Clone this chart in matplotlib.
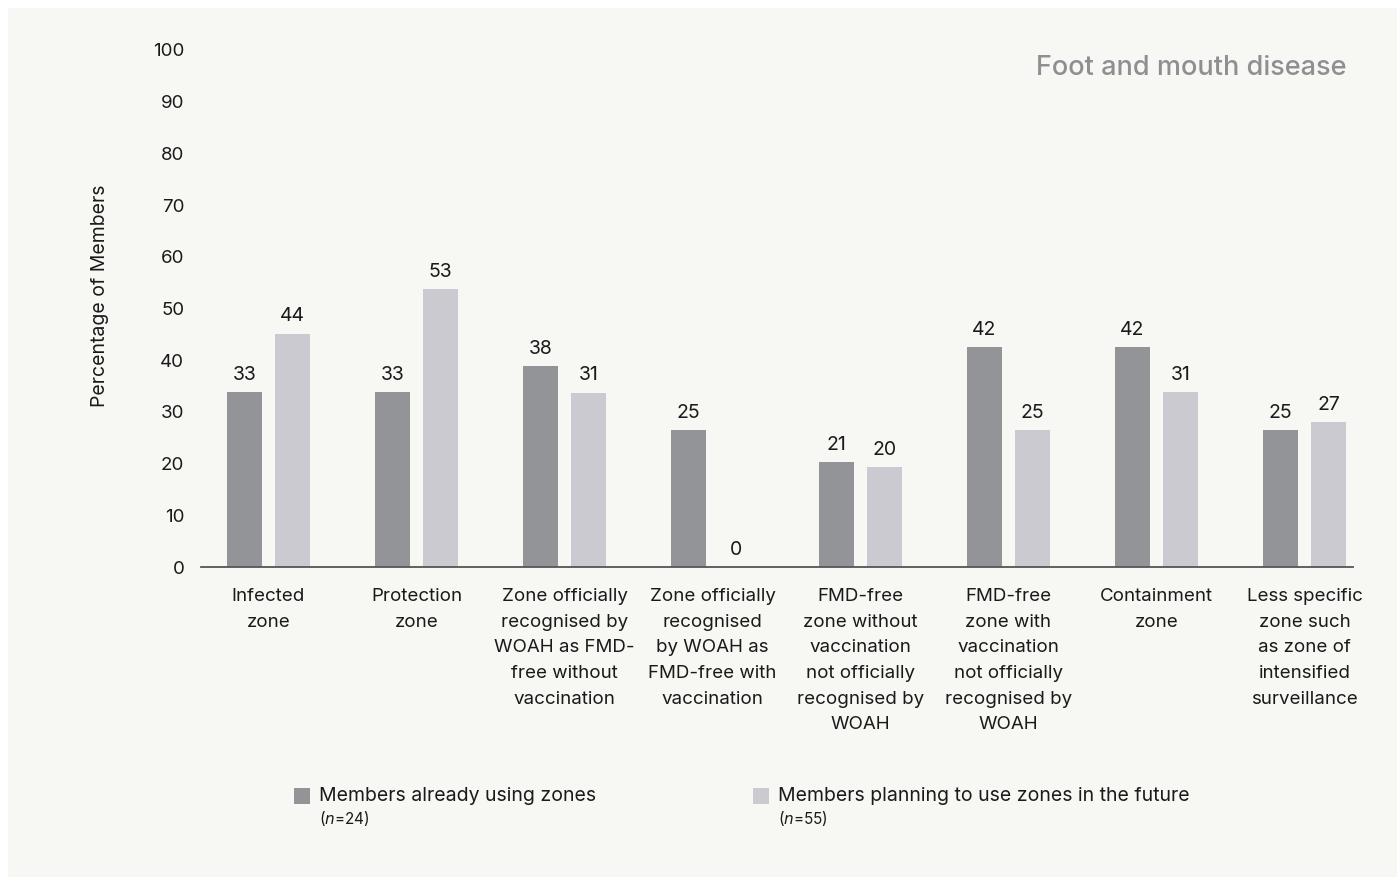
import numpy as np
import matplotlib
matplotlib.use("Agg")
import matplotlib.pyplot as plt
from matplotlib.patches import Rectangle

plt.rcParams['font.family'] = ['Inter', 'DejaVu Sans']

categories = [
    "Infected\nzone",
    "Protection\nzone",
    "Zone officially\nrecognised by\nWOAH as FMD-\nfree without\nvaccination",
    "Zone officially\nrecognised\nby WOAH as\nFMD-free with\nvaccination",
    "FMD-free\nzone without\nvaccination\nnot officially\nrecognised by\nWOAH",
    "FMD-free\nzone with\nvaccination\nnot officially\nrecognised by\nWOAH",
    "Containment\nzone",
    "Less specific\nzone such\nas zone of\nintensified\nsurveillance",
]
# bar heights as drawn in the picture, and the printed labels
already_height = [33.8, 33.8, 38.8, 26.5, 20.3, 42.5, 42.5, 26.5]
already_label = ["33", "33", "38", "25", "21", "42", "42", "25"]
planning_height = [45.1, 53.8, 33.7, 0, 19.3, 26.5, 33.8, 28.0]
planning_label = ["44", "53", "31", "0", "20", "25", "31", "27"]
yticks = list(range(0, 101, 10))

dark = "#939497"
light = "#cacad0"
bg = "#f7f7f3"
txt = "#1a1a1a"

W, H = 1397, 877
fig = plt.figure(figsize=(W / 100, H / 100), dpi=100, facecolor="white")
fig.add_artist(Rectangle((8 / W, 0), 1, 1 - 8 / H, transform=fig.transFigure,
                         facecolor=bg, edgecolor="none", zorder=-10))

ax = fig.add_axes([201 / W, 1 - 567 / H, (1353 - 201) / W, (567 - 50) / H])
ax.set_facecolor("none")

x = np.arange(len(categories))
bw = 0.236
off = 0.162
ax.bar(x - off, already_height, bw, color=dark, zorder=2)
ax.bar(x + off, planning_height, bw, color=light, zorder=2)

for xi, h, lab in zip(x - off, already_height, already_label):
    ax.annotate(lab, (xi, h), xytext=(0, 6), textcoords="offset points",
                ha="center", va="bottom", fontsize=14, color=txt)
for xi, h, lab in zip(x + off, planning_height, planning_label):
    ax.annotate(lab, (xi, h), xytext=(0, 6), textcoords="offset points",
                ha="center", va="bottom", fontsize=14, color=txt)

ax.set_xlim(-0.456, 7.328)
ax.set_ylim(0, 100)
ax.set_yticks(yticks)
ax.set_yticklabels([str(v) for v in yticks], fontsize=13.5, color=txt)
ax.set_xticks(x)
ax.set_xticklabels(categories, fontsize=13.5, color=txt, linespacing=1.67)
ax.tick_params(axis="y", length=0, pad=12)
ax.tick_params(axis="x", length=0, pad=15)

for s in ["top", "right", "left"]:
    ax.spines[s].set_visible(False)
ax.spines["bottom"].set_color("#555555")
ax.spines["bottom"].set_linewidth(1.3)

ax.set_ylabel("Percentage of Members", fontsize=14, color=txt)
ax.yaxis.set_label_coords(-0.080, 0.524)

fig.text(1346 / W, 1 - 68 / H, "Foot and mouth disease", ha="right", va="center",
         fontsize=19.5, fontweight="medium", color="#8e8f93")

# legend
legend_items = [
    (294, dark, "Members already using zones", "24"),
    (753, light, "Members planning to use zones in the future", "55"),
]
for lx, col, name, n in legend_items:
    fig.add_artist(Rectangle((lx / W, 1 - 804 / H), 16 / W, 16 / H,
                             transform=fig.transFigure, facecolor=col,
                             edgecolor="none"))
    fig.text((lx + 25) / W, 1 - 796 / H, name, ha="left", va="center",
             fontsize=14, color=txt)
    fig.text((lx + 25) / W, 1 - 819 / H, "($\\it{n}$=" + n + ")", ha="left",
             va="center", fontsize=11, color=txt)

fig.savefig("out.png", dpi=100, facecolor="white")
